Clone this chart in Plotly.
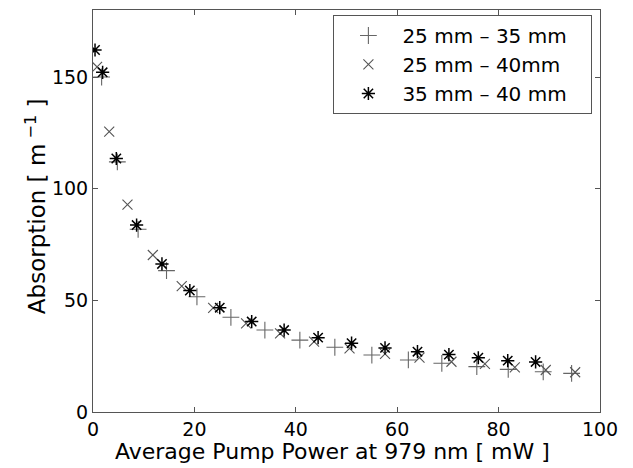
import plotly.graph_objects as go

# 25 mm - 35 mm (plus)
x_25_35 = [1.7, 4.8, 8.9, 14.5, 20.5, 27.2, 33.9, 40.8, 47.7, 55.0, 62.2, 68.8, 75.7, 81.9, 88.8, 94.4]
y_25_35 = [150.0, 112.0, 81.8, 63.3, 51.6, 42.4, 36.7, 32.2, 29.0, 25.5, 23.3, 21.8, 20.3, 19.1, 18.0, 17.3]

# 25 mm - 40 mm (x)
x_25_40 = [0.8, 3.2, 6.8, 11.8, 17.5, 23.7, 30.2, 36.9, 43.6, 50.6, 57.6, 64.4, 70.7, 77.3, 83.2, 89.3, 95.1]
y_25_40 = [154.5, 125.5, 92.9, 70.3, 56.4, 46.6, 39.7, 35.2, 31.5, 28.5, 26.0, 24.3, 22.5, 21.5, 20.0, 18.8, 17.8]

# 35 mm - 40 mm (asterisk)
x_35_40 = [0.4, 1.9, 4.6, 8.6, 13.6, 19.1, 25.0, 31.3, 37.7, 44.4, 51.0, 57.6, 64.0, 70.2, 76.0, 81.8, 87.3]
y_35_40 = [162.1, 152.1, 113.5, 83.7, 66.3, 54.4, 46.7, 40.5, 36.7, 33.3, 30.8, 28.7, 27.0, 25.7, 24.3, 23.0, 22.4]

names = ["25 mm \u2013 35 mm", "25 mm \u2013 40mm", "35 mm \u2013 40 mm"]
x_ticks = [0, 20, 40, 60, 80, 100]
y_ticks = [0, 50, 100, 150]
x_title = "Average Pump Power at 979 nm [ mW ]"
y_title = "Absorption [ m<sup> \u22121</sup> ]"

FONT = "DejaVu Sans, Liberation Sans, sans-serif"
PAD = "\u00a0\u00a0\u00a0"  # right padding inside the legend box

fig = go.Figure()
fig.add_trace(go.Scatter(x=x_25_35, y=y_25_35, mode="markers", name=names[0] + PAD,
                         marker=dict(symbol="cross-thin-open", size=12, color="#666666",
                                     line=dict(color="#666666", width=1.1))))
fig.add_trace(go.Scatter(x=x_25_40, y=y_25_40, mode="markers", name=names[1] + PAD,
                         marker=dict(symbol="x-thin-open", size=10, color="#555555",
                                     line=dict(color="#555555", width=1.1))))
fig.add_trace(go.Scatter(x=x_35_40, y=y_35_40, mode="markers", name=names[2] + PAD,
                         marker=dict(symbol="asterisk-open", size=11, color="#000000",
                                     line=dict(color="#000000", width=1.5))))

axis_common = dict(showgrid=False, zeroline=False, showline=True, mirror="ticks",
                   linecolor="#555555", linewidth=1, ticks="inside", ticklen=5,
                   tickcolor="#555555", automargin=False,
                   tickfont=dict(family=FONT, size=19, color="black"))

fig.update_xaxes(range=[0, 100], tickvals=x_ticks, **axis_common)
fig.update_yaxes(range=[0, 180], tickvals=y_ticks, **axis_common)

fig.add_annotation(text=x_title, xref="paper", yref="paper", x=0.473, y=-0.0995,
                   xanchor="center", yanchor="middle", showarrow=False,
                   font=dict(family=FONT, size=22, color="black"))
fig.add_annotation(text=y_title, xref="paper", yref="paper", x=-0.1124, y=0.512,
                   xanchor="center", yanchor="middle", showarrow=False, textangle=-90,
                   font=dict(family=FONT, size=23, color="black"))

fig.update_layout(
    width=617, height=460,
    margin=dict(l=85, r=25, t=2, b=56),
    paper_bgcolor="white", plot_bgcolor="white",
    font=dict(family=FONT, color="black"),
    showlegend=True,
    legend=dict(x=0.985, y=0.9876, xanchor="right", yanchor="top",
                bgcolor="white", bordercolor="#555555", borderwidth=1,
                font=dict(family=FONT, size=20, color="black"),
                itemwidth=58, tracegroupgap=0),
)

fig.write_html("out.html")
